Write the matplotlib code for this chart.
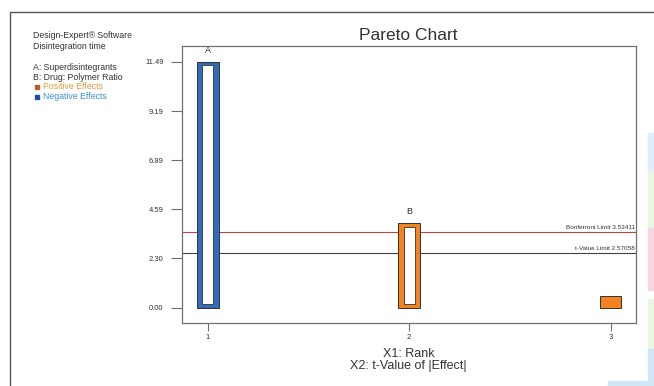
import matplotlib
matplotlib.use("Agg")
import numpy as np
import matplotlib.pyplot as plt
from matplotlib.patches import Rectangle
from matplotlib.lines import Line2D

plt.rcParams["font.family"] = ["Liberation Sans", "DejaVu Sans"]

# effects, ranked by |t|
ranks = [1, 2, 3]
t_values = [11.49, 3.94, 0.55]
effect_names = ["A", "B", ""]
effect_sign = ["neg", "pos", "pos"]

bonferroni_limit = 3.53411
t_limit = 2.57058

ytick_vals = [0.00, 2.30, 4.59, 6.89, 9.19, 11.49]
ytick_text = ["0.00", "2.30", "4.59", "6.89", "9.19", "11.49"]

factor_lines = ["A: Superdisintegrants", "B: Drug: Polymer Ratio"]

BLUE = "#2f6db8"
ORANGE = "#f2831f"
DARK = "#333333"
GRAY = "#707070"
sign_color = {"neg": BLUE, "pos": ORANGE}

fig = plt.figure(figsize=(6.54, 3.86), dpi=100, facecolor="white")
ax = fig.add_axes([0.2778, 0.164, 0.6942, 0.7168])

bar_w = 0.107
h_inset = 0.026
v_inset = 0.17

cols = [sign_color[s] for s in effect_sign]
ax.bar(ranks, t_values, width=bar_w, color=cols, edgecolor=DARK,
       linewidth=0.7, zorder=3)

# hollow look for the tall bars
for r, v in zip(ranks, t_values):
    if v > 1.0:
        ax.bar(r, v - 2 * v_inset, bottom=v_inset, width=bar_w - 2 * h_inset,
               color="white", edgecolor=DARK, linewidth=0.6, zorder=4)

for r, v, name in zip(ranks, t_values, effect_names):
    if name:
        ax.text(r, v + 0.55, name, ha="center", va="center",
                fontsize=6.5, color=DARK)

ax.axhline(bonferroni_limit, color="#b5483f", linewidth=0.8, zorder=2)
ax.axhline(t_limit, color="#404040", linewidth=0.8, zorder=2)
ax.text(3.122, bonferroni_limit + 0.08, f"Bonferroni Limit {bonferroni_limit}",
        ha="right", va="bottom", fontsize=4.6, color=DARK)
ax.text(3.122, t_limit + 0.08, f"t-Value Limit {t_limit}",
        ha="right", va="bottom", fontsize=4.6, color=DARK)

ax.set_xlim(0.87, 3.125)
ax.set_ylim(-0.70, 12.23)
ax.set_xticks(ranks)
ax.set_xticklabels([str(r) for r in ranks])
ax.set_yticks(ytick_vals)
ax.set_yticklabels(ytick_text)
ax.tick_params(axis="y", length=8, width=0.8, color=GRAY, pad=5,
               labelsize=5.5, labelcolor=DARK)
ax.tick_params(axis="x", length=6, width=0.8, color=GRAY, pad=2,
               labelsize=5.5, labelcolor=DARK)
for sp in ax.spines.values():
    sp.set_color(GRAY)
    sp.set_linewidth(0.9)

ax.set_xlabel("X1: Rank\nX2: t-Value of |Effect|", fontsize=9,
              color=DARK, labelpad=5, linespacing=1.0)

fig.text(0.624, 0.909, "Pareto Chart", ha="center", va="center",
         fontsize=12.5, color=DARK)

# side panel text
fig.text(0.051, 0.907, "Design-Expert® Software", fontsize=6.3,
         color=DARK, va="center")
fig.text(0.051, 0.879, "Disintegration time", fontsize=6.3,
         color=DARK, va="center")
fig.text(0.051, 0.824, factor_lines[0], fontsize=6.3, color=DARK, va="center")
fig.text(0.051, 0.800, factor_lines[1], fontsize=6.3, color=DARK, va="center")
fig.add_artist(Line2D([0.056], [0.775], marker="s", markersize=2.6,
                      color="#b0622a", transform=fig.transFigure))
fig.text(0.066, 0.775, "Positive Effects", fontsize=6.3,
         color="#e09a3c", va="center")
fig.add_artist(Line2D([0.056], [0.750], marker="s", markersize=2.6,
                      color="#1f4f9a", transform=fig.transFigure))
fig.text(0.066, 0.750, "Negative Effects", fontsize=6.3,
         color="#3a90d4", va="center")

# outer frame
fig.add_artist(Line2D([0.0155, 0.0155, 1.0], [0.0, 0.969, 0.969],
                      color="#555555", linewidth=1.0,
                      transform=fig.transFigure))

# coloured strip at the right edge of the page
strip = [(0.555, 0.655, "#dfeefa"), (0.409, 0.555, "#eaf5e2"),
         (0.249, 0.409, "#f9d6e4"), (0.095, 0.225, "#eaf5e2"),
         (0.0, 0.095, "#cfe6f7")]
for y0, y1, c in strip:
    fig.add_artist(Rectangle((0.991, y0), 0.009, y1 - y0, color=c,
                             transform=fig.transFigure, zorder=0))
fig.add_artist(Rectangle((0.93, 0.0), 0.07, 0.012, color="#cfe6f7",
                         transform=fig.transFigure, zorder=0))

fig.savefig("out.png", dpi=100, facecolor="white")
